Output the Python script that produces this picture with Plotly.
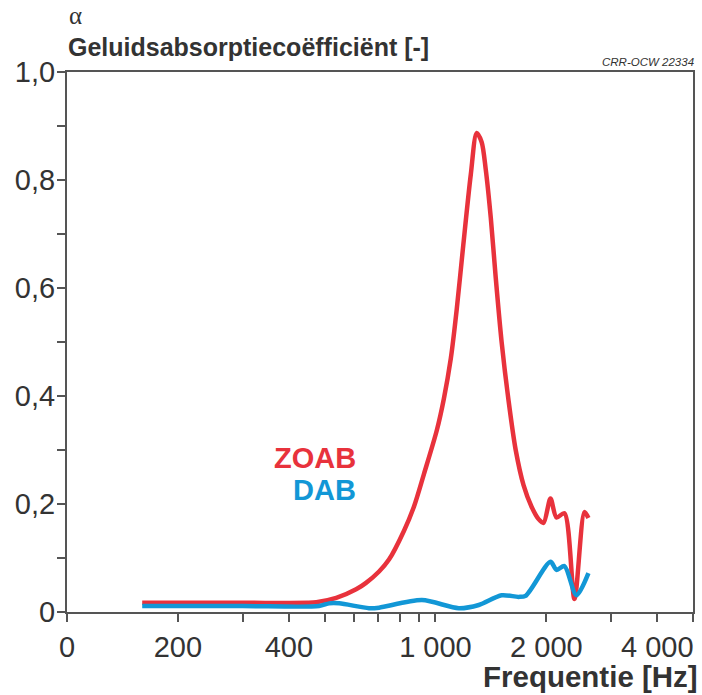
import plotly.graph_objects as go

# Sound absorption coefficient versus frequency for two road surfaces
zoab_freq = [160, 300, 450, 475, 538, 609, 648, 703, 748, 821, 874, 930, 1009, 1054,
             1101, 1142, 1186, 1247, 1294, 1335, 1369, 1413, 1457, 1512, 1580, 1651,
             1734, 1823, 1905, 1965, 2052, 2131, 2239, 2384, 2537, 2601]
zoab_alpha = [0.017, 0.017, 0.017, 0.018, 0.026, 0.042, 0.054, 0.075, 0.097, 0.150,
              0.195, 0.255, 0.337, 0.395, 0.47, 0.56, 0.67, 0.81, 0.887, 0.87, 0.82,
              0.73, 0.62, 0.50, 0.39, 0.30, 0.235, 0.195, 0.172, 0.165, 0.21, 0.175,
              0.183, 0.024, 0.185, 0.174]

dab_freq = [160, 300, 483, 515, 548, 660, 703, 919, 1157, 1311, 1512, 1682, 1757,
            2052, 2131, 2239, 2413, 2601]
dab_alpha = [0.011, 0.011, 0.011, 0.016, 0.016, 0.007, 0.008, 0.022, 0.007, 0.013,
             0.031, 0.028, 0.030, 0.093, 0.078, 0.085, 0.031, 0.072]

x_tickvals = [100, 200, 300, 400, 500, 600, 700, 800, 900, 1000, 2000, 3000, 4000, 5000]
x_ticktext = ["0", "200", "", "400", "", "", "", "", "", "1 000", "2 000", "", "4 000", ""]
y_tickvals = [0, 0.2, 0.4, 0.6, 0.8, 1.0]
y_ticktext = ["0", "0,2", "0,4", "0,6", "0,8", "1,0"]

RED = "#e8323c"
BLUE = "#1297d6"
AXIS = "#555555"
TEXT = "#333333"
FONT = "Liberation Sans, Arial, sans-serif"

fig = go.Figure()
fig.add_trace(go.Scatter(x=zoab_freq, y=zoab_alpha, mode="lines",
                         line=dict(color=RED, width=4.5, shape="spline", smoothing=0.8),
                         hoverinfo="skip"))
fig.add_trace(go.Scatter(x=dab_freq, y=dab_alpha, mode="lines",
                         line=dict(color=BLUE, width=4.5, shape="spline", smoothing=0.8),
                         hoverinfo="skip"))

L, R, T, B = 67, 7, 72, 83
W, H = 702, 695
pw, ph = W - L - R, H - T - B


def px(xp):
    return (xp - L) / pw


def py(yp):
    return (H - B - yp) / ph


fig.update_layout(
    width=W, height=H,
    margin=dict(l=L, r=R, t=T, b=B),
    paper_bgcolor="white", plot_bgcolor="white",
    showlegend=False,
    font=dict(family=FONT, color=TEXT, size=29),
    xaxis=dict(
        type="log", range=[2, 3.69897],
        tickmode="array", tickvals=x_tickvals, ticktext=x_ticktext,
        ticks="outside", ticklen=8, tickwidth=1.5, tickcolor=AXIS,
        showline=True, linecolor=AXIS, linewidth=2, mirror=True,
        showgrid=False, zeroline=False,
        tickfont=dict(family=FONT, size=29, color=TEXT),
    ),
    yaxis=dict(
        range=[0, 1.0],
        tickmode="array", tickvals=y_tickvals, ticktext=y_ticktext,
        ticks="outside", ticklen=8, tickwidth=1.5, tickcolor=AXIS,
        ticklabelstandoff=-4,
        minor=dict(tickmode="array", tickvals=[0.1, 0.3, 0.5, 0.7, 0.9],
                   ticks="outside", ticklen=8, tickwidth=1.5, tickcolor=AXIS),
        showline=True, linecolor=AXIS, linewidth=2, mirror=True,
        showgrid=False, zeroline=False,
        tickfont=dict(family=FONT, size=29, color=TEXT),
    ),
)

annotations = [
    dict(text="α", x=px(67), y=py(0), xanchor="left", yanchor="top",
         font=dict(family="Liberation Serif, serif", size=25, color=TEXT)),
    dict(text="<b>Geluidsabsorptiecoëfficiënt [-]</b>", x=px(66), y=py(47),
         xanchor="left", yanchor="middle", font=dict(family=FONT, size=25, color=TEXT)),
    dict(text="<i>CRR-OCW 22334</i>", x=px(698), y=py(62), xanchor="right",
         yanchor="middle", font=dict(family=FONT, size=11.5, color=TEXT)),
    dict(text="<b>Frequentie [Hz]</b>", x=px(702), y=py(676), xanchor="right",
         yanchor="middle", font=dict(family=FONT, size=29.5, color=TEXT)),
    dict(text="<b>ZOAB</b>", x=px(359), y=py(458), xanchor="right", yanchor="middle",
         font=dict(family=FONT, size=29, color=RED)),
    dict(text="<b>DAB</b>", x=px(359), y=py(490), xanchor="right", yanchor="middle",
         font=dict(family=FONT, size=29, color=BLUE)),
]
for a in annotations:
    a.update(xref="paper", yref="paper", showarrow=False)
fig.update_layout(annotations=annotations)

fig.write_html("out.html")
